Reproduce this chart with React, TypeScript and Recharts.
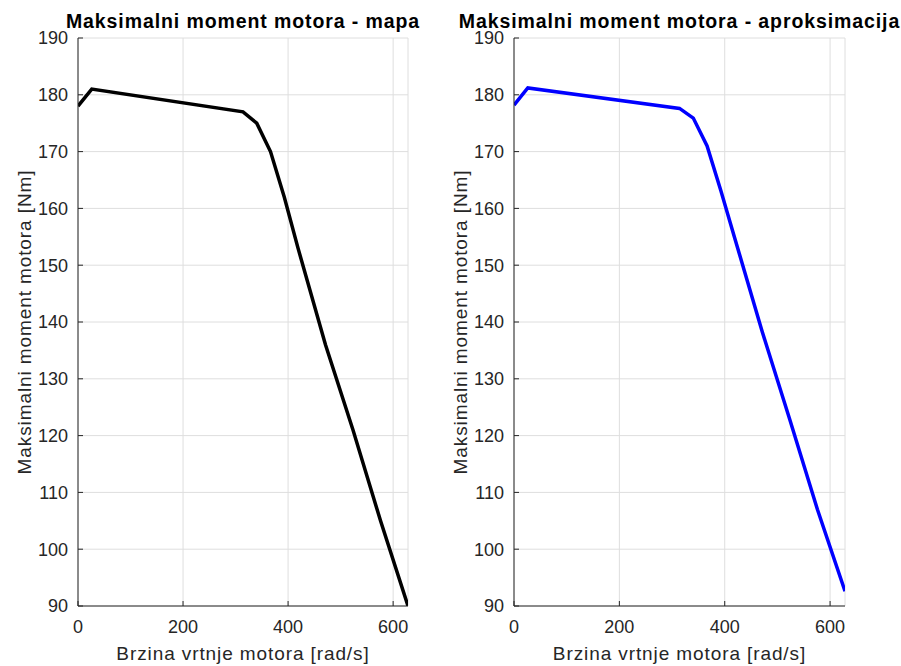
import { LineChart, Line, XAxis, YAxis, CartesianGrid } from 'recharts';

// brzina u rad/s (korak 250/500 rpm), moment u Nm
const speedMap = [0, 26.2, 314.2, 340.3, 366.5, 392.7, 418.9, 471.2, 523.6, 576.0, 628.3];
const torqueMap = [178, 181, 177, 175, 170, 162, 153, 136, 121, 105, 90];
const speedApprox = [0, 26.2, 314.2, 340.3, 366.5, 392.7, 418.9, 471.2, 523.6, 576.0, 628.3];
const torqueApprox = [178.2, 181.2, 177.6, 175.9, 171.0, 163.1, 154.8, 138.3, 122.8, 107.0, 92.6];

const xTicks = [0, 200, 400, 600];
const yTicks = [90, 100, 110, 120, 130, 140, 150, 160, 170, 180, 190];

const FONT = '"Liberation Sans", Arial, sans-serif';
const AXIS = '#262626';

interface PanelProps {
  title: string;
  speed: number[];
  torque: number[];
  color: string;
  left: number;
  width: number;
  marginLeft: number;
  marginRight: number;
}

function Panel({ title, speed, torque, color, left, width, marginLeft, marginRight }: PanelProps) {
  const data = speed.map((s, i) => ({ speed: s, torque: torque[i] }));
  const plotLeft = marginLeft + 60;
  const plotWidth = width - plotLeft - marginRight;

  return (
    <div style={{ position: 'absolute', left, top: 0, width, height: 666 }}>
      <LineChart
        width={width}
        height={666}
        data={data}
        margin={{ top: 38, right: marginRight, bottom: 0, left: marginLeft }}
      >
        <CartesianGrid stroke="#dedede" />
        <XAxis
          dataKey="speed"
          type="number"
          domain={[0, 628.3]}
          allowDataOverflow
          ticks={xTicks}
          height={60}
          tickSize={-5}
          tickMargin={19}
          stroke={AXIS}
          tick={{ fill: AXIS, fontSize: 18, fontFamily: FONT }}
          label={(p: any) => {
            const vb = p.viewBox;
            return (
              <text
                x={vb.x + vb.width / 2}
                y={vb.y + 54}
                textAnchor="middle"
                fill={AXIS}
                fontSize={19}
                letterSpacing={0.9}
                fontFamily={FONT}
              >
                Brzina vrtnje motora [rad/s]
              </text>
            );
          }}
        />
        <XAxis
          xAxisId="top"
          orientation="top"
          dataKey="speed"
          type="number"
          domain={[0, 628.3]}
          allowDataOverflow
          ticks={xTicks}
          height={0}
          tickSize={-5}
          tick={false}
          stroke={AXIS}
        />
        <YAxis
          type="number"
          domain={[90, 190]}
          allowDataOverflow
          ticks={yTicks}
          width={60}
          tickSize={-5}
          tickMargin={15}
          stroke={AXIS}
          tick={{ fill: AXIS, fontSize: 18, fontFamily: FONT }}
          label={(p: any) => {
            const vb = p.viewBox;
            const x = vb.x + 13;
            const y = vb.y + vb.height / 2;
            return (
              <text
                x={x}
                y={y}
                transform={`rotate(-90 ${x} ${y})`}
                textAnchor="middle"
                fill={AXIS}
                fontSize={19}
                letterSpacing={0.9}
                fontFamily={FONT}
              >
                Maksimalni moment motora [Nm]
              </text>
            );
          }}
        />
        <YAxis
          yAxisId="right"
          orientation="right"
          type="number"
          domain={[90, 190]}
          allowDataOverflow
          ticks={yTicks}
          width={0}
          tickSize={-5}
          tick={false}
          stroke={AXIS}
        />
        <Line
          type="linear"
          dataKey="torque"
          stroke={color}
          strokeWidth={3.5}
          dot={false}
          activeDot={false}
          isAnimationActive={false}
        />
      </LineChart>
      <svg
        width={width}
        height={40}
        style={{ position: 'absolute', left: 0, top: 0, overflow: 'visible', pointerEvents: 'none' }}
      >
        <text
          x={plotLeft + plotWidth / 2}
          y={28}
          textAnchor="middle"
          fill="#000"
          fontSize={19.5}
          fontWeight="bold"
          letterSpacing={0.9}
          fontFamily={FONT}
        >
          {title}
        </text>
      </svg>
    </div>
  );
}

export default function App() {
  return (
    <div
      style={{
        position: 'absolute',
        left: 0,
        top: 0,
        width: 901,
        height: 666,
        background: '#fff',
        fontFamily: FONT,
      }}
    >
      <Panel
        title="Maksimalni moment motora - mapa"
        speed={speedMap}
        torque={torqueMap}
        color="#000000"
        left={0}
        width={450}
        marginLeft={18}
        marginRight={42}
      />
      <Panel
        title="Maksimalni moment motora - aproksimacija"
        speed={speedApprox}
        torque={torqueApprox}
        color="#0000ff"
        left={440}
        width={461}
        marginLeft={14}
        marginRight={56}
      />
    </div>
  );
}
